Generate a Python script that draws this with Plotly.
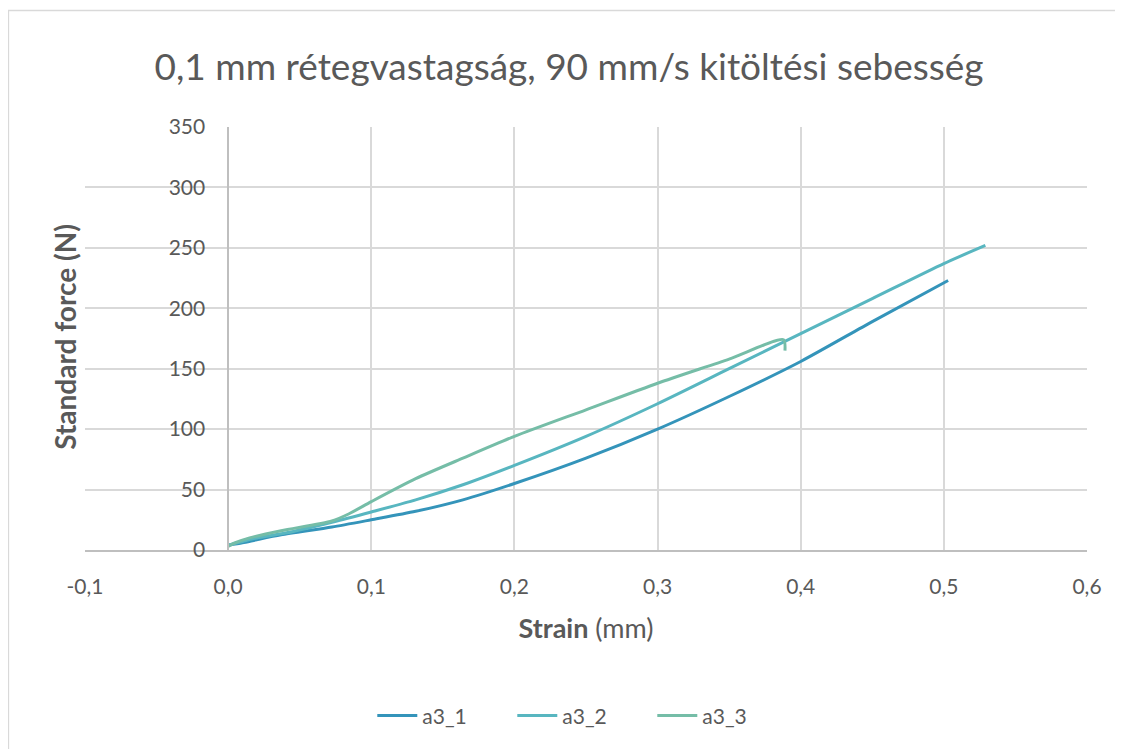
import plotly.graph_objects as go

# ---- data ----
a3_1_strain = [0.000, 0.010, 0.020, 0.037, 0.0725, 0.100, 0.131, 0.164, 0.200,
               0.250, 0.300, 0.350, 0.400, 0.450, 0.503]
a3_1_force = [4, 6, 8.5, 12.5, 19, 25, 32, 41.5, 55, 76, 100, 127, 156, 189, 223]

a3_2_strain = [0.000, 0.010, 0.020, 0.040, 0.0725, 0.100, 0.131, 0.164, 0.200, 0.250,
               0.300, 0.350, 0.400, 0.450, 0.500, 0.529]
a3_2_force = [4, 7, 10, 14, 23, 31.5, 41.5, 54, 70, 94, 121, 150, 179, 208, 237, 252]

a3_3_strain = [0.000, 0.005, 0.015, 0.037, 0.0725, 0.0845, 0.100, 0.131, 0.164, 0.200,
               0.250, 0.300, 0.350, 0.388, 0.389]
a3_3_force = [3, 6, 10, 16, 24, 30, 40, 59, 76, 94, 116, 138, 158, 174, 165]

series_names = ["a3_1", "a3_2", "a3_3"]
series_colors = ["#3494BA", "#58B6C0", "#75BDA7"]

x_tick_vals = [-0.1, 0.0, 0.1, 0.2, 0.3, 0.4, 0.5, 0.6]
x_tick_text = ["-0,1", "0,0", "0,1", "0,2", "0,3", "0,4", "0,5", "0,6"]
y_tick_vals = [0, 50, 100, 150, 200, 250, 300, 350]

title_text = "0,1 mm rétegvastagság, 90 mm/s kitöltési sebesség"
x_title = "<b>Strain</b> (mm)"
y_title = "<b>Standard force (N)</b>"

FONT = "Lato"
TXT = "#595959"

fig = go.Figure()
for name, xs, ys, col in zip(series_names,
                             [a3_1_strain, a3_2_strain, a3_3_strain],
                             [a3_1_force, a3_2_force, a3_3_force],
                             series_colors):
    fig.add_trace(go.Scatter(x=xs, y=ys, mode="lines", name=name,
                             line=dict(color=col, width=3, shape="spline", smoothing=0.7)))

# page has an 8px body margin; plot area in page pixels: x 85..1079, y 127..548
W, H = 1115, 741
fig.update_layout(
    width=W, height=H,
    margin=dict(l=77, r=36, t=119, b=193),
    paper_bgcolor="white", plot_bgcolor="white",
    font=dict(family=FONT, color=TXT),
    title=dict(text=title_text, x=561 / W, xanchor="center", y=1 - 59 / H, yanchor="middle",
               font=dict(family=FONT, size=37, color=TXT)),
    showlegend=True,
    legend=dict(orientation="h", x=(370 - 85) / 994, xanchor="left", y=-0.392, yanchor="middle",
                entrywidth=85, entrywidthmode="pixels", itemwidth=40,
                font=dict(family=FONT, size=21, color=TXT), bgcolor="rgba(0,0,0,0)"),
    xaxis=dict(range=[-0.1, 0.6], tickvals=x_tick_vals, ticktext=x_tick_text,
               showgrid=True, gridcolor="#D9D9D9", gridwidth=1.5,
               showline=True, linecolor="#BFBFBF", linewidth=1.5,
               zeroline=False, ticks="", ticklabelstandoff=17,
               tickfont=dict(family=FONT, size=21, color=TXT),
               title=dict(text=x_title, standoff=22, font=dict(family=FONT, size=27, color=TXT))),
    yaxis=dict(range=[0, 350], tickvals=y_tick_vals,
               anchor="free", position=0.1 / 0.7,
               showgrid=True, gridcolor="#D9D9D9", gridwidth=1.5,
               showline=True, linecolor="#BFBFBF", linewidth=1.5,
               zeroline=False, ticks="", ticklabelstandoff=18,
               tickfont=dict(family=FONT, size=21, color=TXT)),
)

fig.add_annotation(text=y_title, xref="paper", yref="paper",
                   x=(65 - 85) / 994, y=(548 - 336) / 421, textangle=-90,
                   showarrow=False, xanchor="center", yanchor="middle",
                   font=dict(family=FONT, size=28, color=TXT))

# outer chart border
fig.add_shape(type="rect", xref="paper", yref="paper",
              x0=(9 - 85) / 994, x1=(1140 - 85) / 994,
              y0=(548 - 770) / 421, y1=(548 - 11) / 421,
              line=dict(color="#D9D9D9", width=1.5), fillcolor="rgba(0,0,0,0)", layer="below")

fig.write_html("out.html")
